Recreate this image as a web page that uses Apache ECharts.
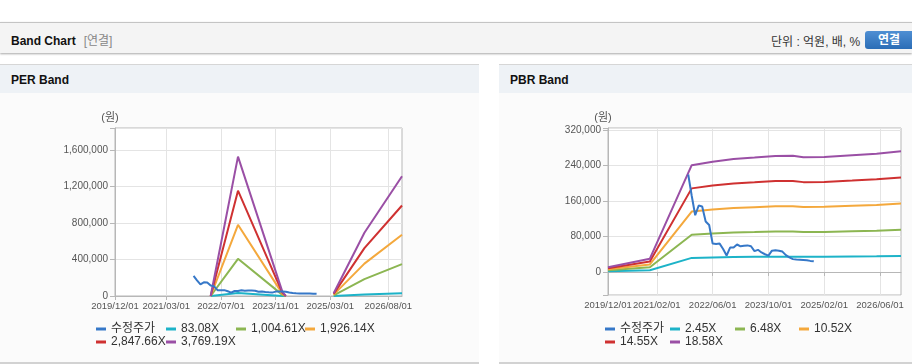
<!DOCTYPE html>
<html><head><meta charset="utf-8">
<script src="https://cdn.jsdelivr.net/npm/echarts@6/dist/echarts.min.js"></script>
<style>
html,body{margin:0;padding:0;width:912px;height:364px;overflow:hidden;background:#fff;font-family:"Liberation Sans","Noto Sans CJK KR",sans-serif;}
.abs{position:absolute;}
#hdr{left:0;top:22px;width:912px;height:30px;background:#f4f4f4;border-top:1px solid #c4c4c4;box-shadow:0 1px 2px rgba(0,0,0,0.35);}
#hdrTitle{left:11px;top:8px;font-size:12px;font-weight:bold;color:#111;white-space:nowrap;}
#hdrTitle span{font-weight:normal;color:#888;margin-left:8px;}
#unit{left:771px;top:9px;font-size:12px;color:#333;white-space:nowrap;}
#btn{left:865px;top:8px;width:52px;height:18px;border-radius:3px;background:linear-gradient(#4f8fd3,#2b6db6);color:#fff;font-weight:bold;font-size:12px;line-height:18px;text-indent:13px;}
.panel{top:64px;height:297px;background:#fbfbfb;border-top:1px solid #d6d6d6;border-bottom:2px solid #d2d2d2;}
.phead{left:0;top:0;right:0;height:28px;background:#eef2f6;}
.ptitle{left:11px;top:8px;font-size:12px;font-weight:bold;color:#111;}
#chart{left:0;top:0;width:912px;height:364px;}
</style></head>
<body>
<div id="hdr" class="abs"><div id="hdrTitle" class="abs">Band Chart<span>[연결]</span></div><div id="unit" class="abs">단위 : 억원, 배, %</div><div id="btn" class="abs">연결</div></div>
<div class="abs panel" style="left:0;width:479px;"><div class="abs phead"><div class="abs ptitle">PER Band</div></div></div>
<div class="abs panel" style="left:499px;width:413px;"><div class="abs phead"><div class="abs ptitle">PBR Band</div></div></div>
<div id="chart" class="abs"></div>
<script>
// ---------- data ----------
const months = [];
for (let y = 2019, m = 12; y < 2027; ) {
  months.push(y + '/' + String(m).padStart(2, '0') + '/01');
  m++; if (m > 12) { m = 1; y++; }
}
const perTickLabels = ['2019/12/01','2021/03/01','2022/07/01','2023/11/01','2025/03/01','2026/08/01'];
const pbrTickLabels = ['2019/12/01','2021/02/01','2022/06/01','2023/10/01','2025/02/01','2026/06/01'];

// adjusted share price (수정주가)
const priceDates = ['2021/11/01','2021/12/01','2022/01/01','2022/02/01','2022/03/01','2022/04/01','2022/05/01','2022/06/01','2022/07/01','2022/08/01','2022/09/01','2022/10/01','2022/11/01','2022/12/01','2023/01/01','2023/02/01','2023/03/01','2023/04/01','2023/05/01','2023/06/01','2023/07/01','2023/08/01','2023/09/01','2023/10/01','2023/11/01','2023/12/01','2024/01/01','2024/02/01','2024/03/01','2024/04/01','2024/05/01','2024/06/01','2024/07/01','2024/08/01','2024/09/01','2024/10/01','2024/11/01'];
const priceValues = [220000,172000,128000,150000,148000,114000,106000,64000,63000,64000,52000,37000,55000,55000,62000,58000,59000,60000,58000,47000,50000,44000,40000,37000,48000,49000,48000,46000,38000,33000,29000,28000,27500,27000,26500,25000,24000];

// PER band lines ('-' = no value)
const perBandDates = ['2022/04/01','2022/12/01','2024/01/01','2024/02/01','2024/03/01','2025/04/01','2026/01/01','2026/12/01'];
const per083 = [0,33600,1000,0,'-',660,15300,28900];
const per1004 = [0,406900,12100,0,'-',8000,184800,349600];
const per1926 = [0,780100,23100,0,'-',15400,354400,670300];
const per2847 = [0,1153300,34200,0,'-',22800,524000,991000];
const per3769 = [0,1526500,45200,0,'-',30200,693500,1311700];

// PBR band lines
const pbrBandDates = ['2019/12/01','2020/12/01','2021/12/01','2022/06/01','2022/12/01','2023/06/01','2023/12/01','2024/05/01','2024/08/01','2025/02/01','2025/10/01','2026/05/01','2026/12/01'];
const pbr245 = [1400,4000,31800,32800,33600,34100,34500,34600,34200,34200,34700,35200,35900];
const pbr648 = [3700,10500,84000,86800,88900,90100,91400,91600,90300,90500,91900,93100,95100];
const pbr1052 = [5900,17000,136400,141000,144400,146300,148300,148600,146600,147000,149200,151200,154300];
const pbr1455 = [8200,23500,188700,195000,199700,202400,205200,205600,202800,203300,206300,209100,213400];
const pbr1858 = [10500,30000,241000,249000,255000,258400,262000,262500,259000,259600,263500,267000,272600];

// ---------- chart ----------
const FONT = '"Liberation Sans", "Noto Sans CJK KR", sans-serif';
const C = {price:'#3678c8', c1:'#1db3c8', c2:'#8cb652', c3:'#f4a83c', c4:'#cf3131', c5:'#9a4fa5'};
const pairs = (d, v) => d.map((x, i) => [x, v[i]]);
const fmt = v => Math.round(v).toLocaleString('en-US');

function xAxis(gi, ticks) {
  const f = (i, v) => ticks.indexOf(v) >= 0;
  return {type:'category', gridIndex:gi, data:months, boundaryGap:false,
    axisLine:{lineStyle:{color:'#b7b7b7'}},
    axisTick:{show:true, interval:f, length:4, lineStyle:{color:'#b7b7b7'}},
    axisLabel:{interval:f, color:'#555', fontSize:9.5, fontFamily:FONT, margin:6, hideOverlap:false,
      showMinLabel:true, showMaxLabel:true},
    splitLine:{show:true, interval:f, lineStyle:{color:'#e4e4e4'}}};
}
function yAxis(gi, min, max, step) {
  return {type:'value', gridIndex:gi, min:min, max:max, minInterval:step, maxInterval:step, splitNumber:5,
    name:'(원)', nameLocation:'end', nameGap:5,
    nameTextStyle:{color:'#555', fontSize:11, fontFamily:FONT, padding:[0,10,0,0]},
    axisLine:{show:true, lineStyle:{color:'#b7b7b7'}},
    axisTick:{show:true, length:5, lineStyle:{color:'#b7b7b7'}},
    axisLabel:{color:'#555', fontSize:10, fontFamily:FONT, margin:7,
      formatter: v => (Math.abs(v % step) < 1e-6 ? fmt(v) : '')},
    splitLine:{show:true, lineStyle:{color:'#e4e4e4'}}};
}
function line(name, gi, data, color) {
  return {type:'line', name:name, xAxisIndex:gi, yAxisIndex:gi, data:data, showSymbol:false,
    symbol:'none', connectNulls:false, lineStyle:{width:2, color:color}, itemStyle:{color:color}};
}
function lg(name, left, top) {
  return {data:[name], left:left, top:top, padding:0, itemWidth:10, itemHeight:3, icon:'rect',
    itemGap:0, selectedMode:false, textStyle:{fontSize:12, color:'#333', fontFamily:FONT}};
}

const option = {
  animation:false,
  grid:[
    {left:115, top:128, width:287, height:168, show:true, borderColor:'#b7b7b7', backgroundColor:'#fff', outerBoundsMode:'none'},
    {left:608, top:128, width:293, height:167, show:true, borderColor:'#b7b7b7', backgroundColor:'#fff', outerBoundsMode:'none'}
  ],
  xAxis:[xAxis(0, perTickLabels), xAxis(1, pbrTickLabels)],
  yAxis:[yAxis(0, 0, 1840000, 400000), yAxis(1, -52000, 325000, 80000)],
  legend:[
    lg('수정주가', 96, 323), lg('83.08X', 166, 323), lg('1,004.61X', 236, 323), lg('1,926.14X', 305, 323),
    lg('2,847.66X', 96, 336), lg('3,769.19X', 166, 336),
    lg('수정주가', 605, 323), lg('2.45X', 670, 323), lg('6.48X', 735, 323), lg('10.52X', 799, 323),
    lg('14.55X', 605, 336), lg('18.58X', 670, 336)
  ],
  series:[
    line('83.08X', 0, pairs(perBandDates, per083), C.c1),
    line('1,004.61X', 0, pairs(perBandDates, per1004), C.c2),
    line('1,926.14X', 0, pairs(perBandDates, per1926), C.c3),
    line('2,847.66X', 0, pairs(perBandDates, per2847), C.c4),
    line('3,769.19X', 0, pairs(perBandDates, per3769), C.c5),
    line('수정주가', 0, pairs(priceDates, priceValues), C.price),
    line('2.45X', 1, pairs(pbrBandDates, pbr245), C.c1),
    line('6.48X', 1, pairs(pbrBandDates, pbr648), C.c2),
    line('10.52X', 1, pairs(pbrBandDates, pbr1052), C.c3),
    line('14.55X', 1, pairs(pbrBandDates, pbr1455), C.c4),
    line('18.58X', 1, pairs(pbrBandDates, pbr1858), C.c5),
    line('수정주가', 1, pairs(priceDates, priceValues), C.price)
  ]
};
const chart = echarts.init(document.getElementById('chart'), null, {renderer:'canvas'});
chart.setOption(option);
</script>
</body></html>
